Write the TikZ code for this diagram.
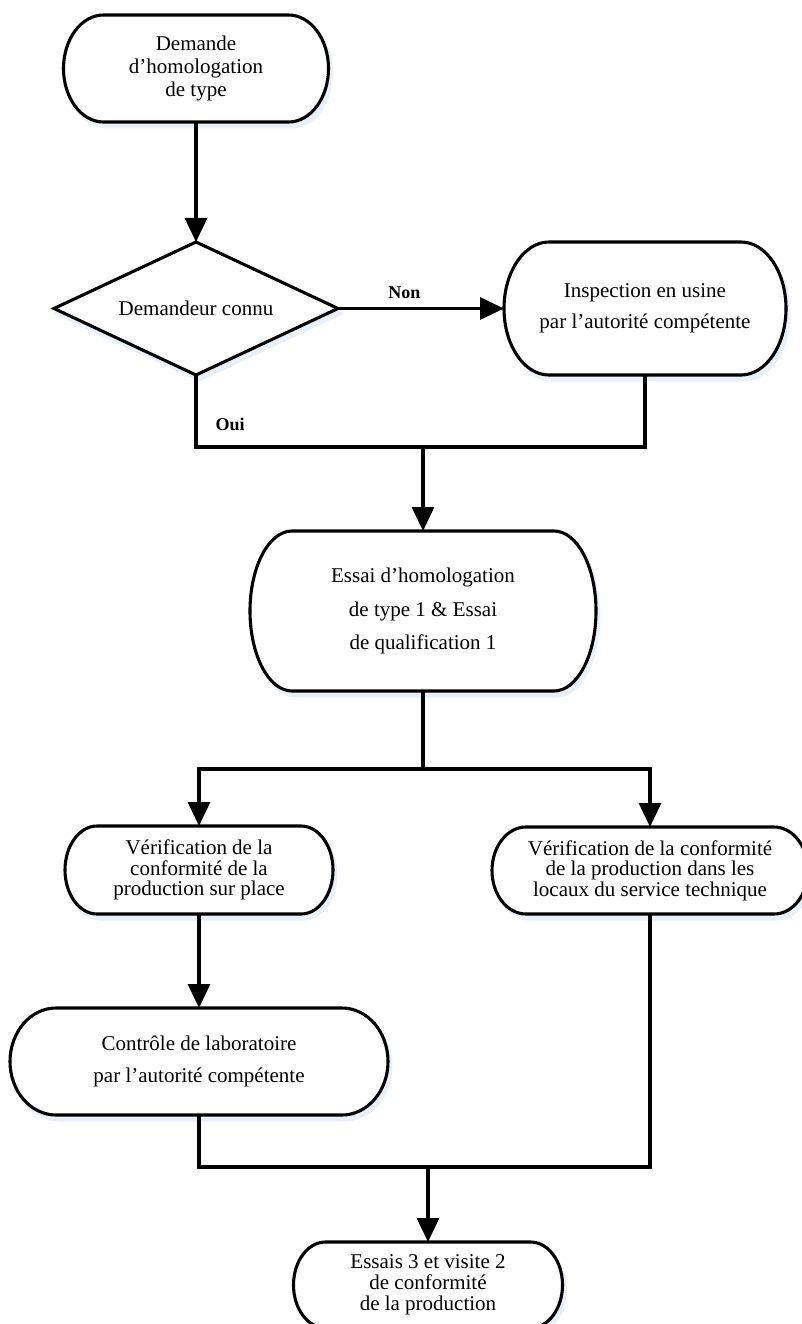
\documentclass[tikz,border=0pt]{standalone}
\usepackage{fontspec}
\setmainfont{Liberation Serif}
\usetikzlibrary{arrows.meta,shapes.geometric}
\pgfdeclarelayer{background}
\pgfsetlayers{background,main}
\definecolor{shade}{RGB}{234,240,248}
\newcommand{\fsz}[1]{\fontsize{21}{#1}\selectfont}
\newcommand{\termshape}[3]{%
  \draw[boxline] ([xshift=#2]#1.north west) -- ([xshift=-#2]#1.north east)
    arc[start angle=90, end angle=-90, x radius=#2, y radius=#3]
    -- ([xshift=#2]#1.south west)
    arc[start angle=270, end angle=90, x radius=#2, y radius=#3] -- cycle;}
\tikzset{
  term/.style={rectangle, draw=none, outer sep=0pt, inner sep=0pt, align=center},
  boxline/.style={line width=3.1pt, draw=black, fill=white,
    preaction={fill=shade, draw=shade, line width=3pt, transform canvas={xshift=3pt, yshift=-5pt}}},
  dec/.style={diamond, draw=black, fill=white, line width=3.1pt, aspect=2.135,
    minimum width=284pt, minimum height=133pt, inner sep=0pt, outer sep=0pt, font=\fsz{23},
    preaction={fill=shade, draw=shade, transform canvas={xshift=3pt, yshift=-5pt}}},
  conn/.style={line width=3.1pt, draw=black},
  arr/.style={conn, -{Triangle[length=24pt,width=22pt]}},
  lbl/.style={font=\fontsize{18}{20}\selectfont\bfseries, inner sep=0pt}
}
\begin{document}
\begin{tikzpicture}[x=1pt,y=1pt]
\useasboundingbox (0,0) rectangle (801,-1324);
% boxes
\node[term, minimum width=265pt, minimum height=107pt, font=\fsz{23}] (demande) at (196,-68.5) {Demande\\d’homologation\\de type};
\node[term, minimum width=282pt, minimum height=133pt, font=\fsz{31}] (inspection) at (645,-308.5) {Inspection en usine\\par l’autorité compétente};
\node[term, minimum width=346pt, minimum height=160pt, font=\fsz{33.5}] (essai) at (423,-611) {Essai d’homologation\\de type 1 \& Essai\\de qualification 1};
\node[term, minimum width=268pt, minimum height=88pt, font=\fsz{20.5}] (verifL) at (199,-870) {Vérification de la\\conformité de la\\production sur place};
\node[term, minimum width=316pt, minimum height=87pt, font=\fsz{20.5}] (verifR) at (650,-870.5) {Vérification de la conformité\\de la production dans les\\locaux du service technique};
\node[term, minimum width=378pt, minimum height=107pt, font=\fsz{32}] (controle) at (199,-1061.5) {Contrôle de laboratoire\\par l’autorité compétente};
\node[term, minimum width=269pt, minimum height=86pt, font=\fsz{21}] (final) at (428,-1285) {Essais 3 et visite 2\\de conformité\\de la production};
\begin{pgfonlayer}{background}
\termshape{demande}{40pt}{53.5pt}
\termshape{inspection}{45pt}{66.5pt}
\termshape{essai}{42pt}{80pt}
\termshape{verifL}{32pt}{44pt}
\termshape{verifR}{34pt}{43.5pt}
\termshape{controle}{46pt}{53.5pt}
\termshape{final}{32pt}{43pt}
\end{pgfonlayer}
% decision
\node[dec] (connu) at (196,-308.5) {Demandeur connu};
% junctions
\coordinate (j1) at (423,-447);
\coordinate (j2) at (423,-769);
\coordinate (j3) at (428,-1167);
% connectors
\draw[arr] (demande.south) -- (connu.north);
\draw[arr] (connu.east) -- node[lbl, pos=0.4, yshift=16pt] {Non} (inspection.west);
\draw[conn] (connu.south) -- node[lbl, pos=0.68, anchor=west, xshift=18pt] {Oui} (connu.south |- j1) -- (inspection.south |- j1) -- (inspection.south);
\draw[arr] (j1) -- (essai.north);
\draw[conn] (essai.south) -- (j2);
\draw[arr] (j2) -| (verifL.north);
\draw[arr] (j2) -| (verifR.north);
\draw[arr] (verifL.south) -- (controle.north);
\draw[conn] (controle.south) |- (j3) -| (verifR.south);
\draw[arr] (j3) -- (final.north);
\end{tikzpicture}
\end{document}
